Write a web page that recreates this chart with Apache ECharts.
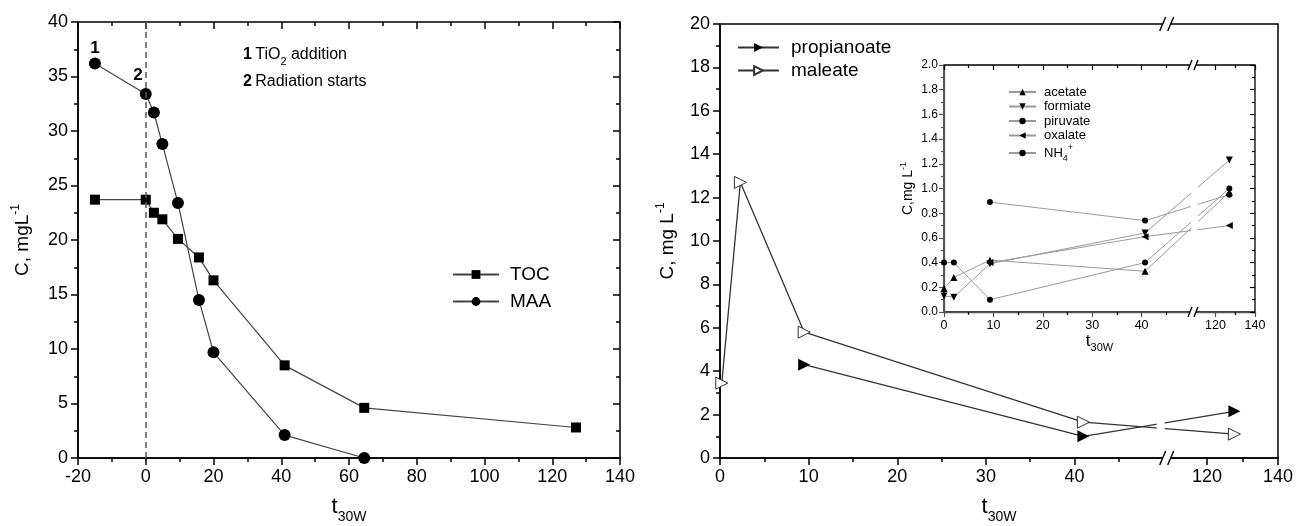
<!DOCTYPE html>
<html><head><meta charset="utf-8">
<script src="https://cdn.jsdelivr.net/npm/echarts@6/dist/echarts.min.js"></script>
<style>html,body{margin:0;padding:0;background:#fff}#c{width:1298px;height:526px}</style>
</head><body><div id="c"></div>
<script>
// ---------- DATA ----------
// Left panel (TOC and MAA vs t30W)
const leftTimes = [-15, 0, 2.4, 4.9, 9.5, 15.7, 20, 41, 64.5, 127];
const tocValues = [23.7, 23.7, 22.5, 21.9, 20.1, 18.4, 16.3, 8.5, 4.6, 2.8];
const maaValues = [36.2, 33.4, 31.7, 28.8, 23.4, 14.5, 9.7, 2.1, 0, null];
// Right panel
const maleateTimes = [0.2, 2.3, 9.5, 41, 127.7];
const maleateValues = [3.45, 12.7, 5.8, 1.65, 1.1];
const propTimes = [9.5, 41, 127.7];
const propValues = [4.3, 1.0, 2.15];
// Inset
const insetTimes = [0, 2, 9.3, 40.7, 127];
const acetateValues = [0.19, 0.28, 0.42, 0.33, 0.97];
const formiateValues = [0.13, 0.12, 0.39, 0.64, 1.23];
const piruvateValues = [null, null, 0.89, 0.74, 0.95];
const oxalateValues = [null, null, 0.40, 0.61, 0.70];
const nh4Values = [0.40, 0.40, 0.10, 0.40, 1.00];
// Broken-axis tick labels
const brokenMajorTicks = [0, 10, 20, 30, 40, 120, 140];
const brokenMinorTicks = [5, 15, 25, 35, 45, 130];

// ---------- broken axis mapping ----------
const BREAK_AT = 50.4, RESUME_AT = 108.6, COMPRESS = 0.4;
function brk(x){ return x <= BREAK_AT ? x : BREAK_AT + (x - RESUME_AT) * COMPRESS; }
function unbrk(v){ return v <= BREAK_AT + 1e-9 ? v : RESUME_AT + (v - BREAK_AT) / COMPRESS; }
const BMAX = brk(140);

function pairs(xs, ys, tf){
  return xs.map((x,i)=> ys[i]==null ? null : [tf ? tf(x) : x, ys[i]]).filter(Boolean);
}

const FONT = '"Liberation Sans", Arial, sans-serif';
const BLACK = '#000';

function axis(o){
  const a = {
    type:'value', splitLine:{show:false},
    axisLine:{show:true, onZero:false, lineStyle:{color:BLACK, width:1.5}},
    axisTick:{show:true, inside:false, length:7, lineStyle:{color:BLACK, width:1.5}},
    minorTick:{show:false, splitNumber:2, length:4, lineStyle:{color:BLACK, width:1.5}},
    axisLabel:{show:true, color:BLACK, fontFamily:FONT, fontSize:18, margin:10},
    nameTextStyle:{color:BLACK, fontFamily:FONT}
  };
  for (const k in o){
    if (a[k] && typeof a[k]==='object' && !Array.isArray(a[k]) && typeof o[k]==='object' && !Array.isArray(o[k])) a[k] = Object.assign({}, a[k], o[k]);
    else a[k] = o[k];
  }
  return a;
}

const tName = (big, small) => ({
  name:'{t|t}{s|30W}',
  nameTextStyle:{color:BLACK, fontFamily:FONT, rich:{
    t:{fontSize:big, fontFamily:FONT, color:BLACK, verticalAlign:'bottom', padding:[0,0,Math.round(big*0.25),0]},
    s:{fontSize:small, fontFamily:FONT, color:BLACK, verticalAlign:'bottom'}
  }}
});
const cName = (txt, big, small) => ({
  name:'{a|' + txt + '}{p|-1}',
  nameTextStyle:{color:BLACK, fontFamily:FONT, rich:{
    a:{fontSize:big, fontFamily:FONT, color:BLACK, verticalAlign:'bottom'},
    p:{fontSize:small, fontFamily:FONT, color:BLACK, verticalAlign:'bottom', padding:[0,0,Math.round(big*0.5),0]}
  }}
});

const brokenFmt = v => String(Math.round(unbrk(v)));

const option = {
  animation:false,
  backgroundColor:'#fff',
  textStyle:{fontFamily:FONT},
  grid:[
    {left:78, top:22, width:542, height:436, show:true, borderColor:BLACK, borderWidth:1.5, backgroundColor:'transparent', outerBoundsMode:'none', containLabel:false},
    {left:720, top:24, width:558, height:434, show:true, borderColor:BLACK, borderWidth:1.5, backgroundColor:'transparent', outerBoundsMode:'none', containLabel:false},
    {left:944, top:65, width:311, height:247, show:true, borderColor:BLACK, borderWidth:1.3, backgroundColor:'#fff', outerBoundsMode:'none', containLabel:false}
  ],
  xAxis:[
    axis(Object.assign({gridIndex:0, position:'bottom', min:-20, max:140, interval:20, minorTick:{show:true},
      nameLocation:'middle', nameGap:38}, tName(22, 14))),
    axis({gridIndex:0, position:'top', min:-20, max:140, interval:20, axisLine:{show:false},
      axisTick:{inside:true}, minorTick:{show:true}, axisLabel:{show:false}}),
    axis(Object.assign({gridIndex:1, position:'bottom', min:0, max:BMAX,
      axisTick:{customValues:brokenMajorTicks.map(brk)},
      axisLabel:{customValues:brokenMajorTicks.map(brk), formatter:brokenFmt},
      nameLocation:'middle', nameGap:38}, tName(22, 14))),
    axis({gridIndex:1, position:'bottom', min:0, max:BMAX, axisLine:{show:false},
      axisTick:{length:4, customValues:brokenMinorTicks.map(brk)}, axisLabel:{show:false}}),
    axis(Object.assign({gridIndex:2, position:'bottom', min:0, max:BMAX,
      axisLine:{lineStyle:{width:1.3}},
      axisTick:{length:5, lineStyle:{width:1.2}, customValues:brokenMajorTicks.map(brk)},
      axisLabel:{fontSize:12.5, margin:7, customValues:brokenMajorTicks.map(brk), formatter:brokenFmt},
      nameLocation:'middle', nameGap:18}, tName(17, 11))),
    axis({gridIndex:2, position:'bottom', min:0, max:BMAX, axisLine:{show:false},
      axisTick:{length:3, lineStyle:{width:1.2}, customValues:brokenMinorTicks.map(brk)}, axisLabel:{show:false}}),
    axis({gridIndex:2, position:'top', min:0, max:BMAX, axisLine:{show:false},
      axisTick:{inside:true, length:5, lineStyle:{width:1.2}, customValues:brokenMajorTicks.map(brk)}, axisLabel:{show:false}}),
    axis({gridIndex:2, position:'top', min:0, max:BMAX, axisLine:{show:false},
      axisTick:{inside:true, length:3, lineStyle:{width:1.2}, customValues:brokenMinorTicks.map(brk)}, axisLabel:{show:false}})
  ],
  yAxis:[
    axis(Object.assign({gridIndex:0, position:'left', min:0, max:40, interval:5, minorTick:{show:true},
      nameLocation:'middle', nameGap:46, nameRotate:90}, cName('C, mgL', 19, 12))),
    axis({gridIndex:0, position:'right', min:0, max:40, interval:5, axisLine:{show:false},
      axisTick:{inside:true}, minorTick:{show:true}, axisLabel:{show:false}}),
    axis(Object.assign({gridIndex:1, position:'left', min:0, max:20, interval:2, minorTick:{show:true},
      nameLocation:'middle', nameGap:43, nameRotate:90}, cName('C, mg L', 19, 12))),
    axis(Object.assign({gridIndex:2, position:'left', min:0, max:2, interval:0.2,
      axisLine:{lineStyle:{width:1.3}},
      axisTick:{length:5, lineStyle:{width:1.2}}, minorTick:{show:true, length:3, lineStyle:{width:1.2}},
      axisLabel:{fontSize:12, margin:6, formatter:v=>v.toFixed(1)},
      nameLocation:'middle', nameGap:29, nameRotate:90}, cName('C,mg L', 14, 9))),
    axis({gridIndex:2, position:'right', min:0, max:2, interval:0.2, axisLine:{show:false},
      axisTick:{inside:true, length:5, lineStyle:{width:1.2}}, minorTick:{show:true, length:3, lineStyle:{width:1.2}},
      axisLabel:{show:false}})
  ],
  legend:[
    {data:['TOC','MAA'], left:452, top:265, orient:'vertical', padding:0, itemWidth:46, itemHeight:11, itemGap:8,
     textStyle:{fontSize:19, color:BLACK, fontFamily:FONT, padding:[0,0,0,6]}},
    {data:['propianoate','maleate'], left:737, top:38, orient:'vertical', padding:0, itemWidth:41, itemHeight:11, itemGap:4,
     textStyle:{fontSize:19, color:BLACK, fontFamily:FONT, padding:[0,0,0,7]}},
    {data:['acetate','formiate','piruvate','oxalate','NH4+'], left:1008, top:85, orient:'vertical', padding:0,
     itemWidth:27, itemHeight:8, itemGap:0.5,
     formatter: n => n === 'NH4+' ? 'NH{sb|4}{sp|+}' : n,
     textStyle:{fontSize:13, lineHeight:14, color:BLACK, fontFamily:FONT, padding:[0,0,0,3],
       rich:{sb:{fontSize:9, verticalAlign:'bottom', padding:[0,0,-3,0]}, sp:{fontSize:9, verticalAlign:'top', padding:[-3,0,0,0]}}}}
  ],
  series:[
    {name:'TOC', type:'line', xAxisIndex:0, yAxisIndex:0, data:pairs(leftTimes, tocValues),
     symbol:'rect', symbolSize:10, lineStyle:{color:'#444', width:1.2}, itemStyle:{color:BLACK},
     markLine:{silent:true, symbol:['none','none'], label:{show:false},
       lineStyle:{type:[6,4], color:'#555', width:1.5}, data:[{xAxis:0}]}},
    {name:'MAA', type:'line', xAxisIndex:0, yAxisIndex:0, data:pairs(leftTimes, maaValues),
     symbol:'circle', symbolSize:12, lineStyle:{color:'#444', width:1.2}, itemStyle:{color:BLACK}},
    {name:'propianoate', type:'line', xAxisIndex:2, yAxisIndex:2, data:pairs(propTimes, propValues, brk),
     symbol:'triangle', symbolRotate:-90, symbolSize:12, lineStyle:{color:'#333', width:1.3}, itemStyle:{color:BLACK}},
    {name:'maleate', type:'line', xAxisIndex:2, yAxisIndex:2, data:pairs(maleateTimes, maleateValues, brk),
     symbol:'triangle', symbolRotate:-90, symbolSize:12, lineStyle:{color:'#333', width:1.3},
     itemStyle:{color:'#fff', borderColor:'#333', borderWidth:1}},
    {name:'acetate', type:'line', xAxisIndex:4, yAxisIndex:3, data:pairs(insetTimes, acetateValues, brk),
     symbol:'triangle', symbolSize:7, lineStyle:{color:'#9a9a9a', width:1}, itemStyle:{color:BLACK}, z:5},
    {name:'formiate', type:'line', xAxisIndex:4, yAxisIndex:3, data:pairs(insetTimes, formiateValues, brk),
     symbol:'triangle', symbolRotate:180, symbolSize:7, lineStyle:{color:'#9a9a9a', width:1}, itemStyle:{color:BLACK}, z:5},
    {name:'piruvate', type:'line', xAxisIndex:4, yAxisIndex:3, data:pairs(insetTimes, piruvateValues, brk),
     symbol:'circle', symbolSize:6, lineStyle:{color:'#9a9a9a', width:1}, itemStyle:{color:BLACK}, z:5},
    {name:'oxalate', type:'line', xAxisIndex:4, yAxisIndex:3, data:pairs(insetTimes, oxalateValues, brk),
     symbol:'triangle', symbolRotate:90, symbolSize:7, lineStyle:{color:'#9a9a9a', width:1}, itemStyle:{color:BLACK}, z:5},
    {name:'NH4+', type:'line', xAxisIndex:4, yAxisIndex:3, data:pairs(insetTimes, nh4Values, brk),
     symbol:'circle', symbolSize:6, lineStyle:{color:'#9a9a9a', width:1}, itemStyle:{color:BLACK}, z:5}
  ]
};

const chart = echarts.init(document.getElementById('c'), null, {renderer:'canvas'});
chart.setOption(option);

// ---------- decorations (annotations, axis-break marks) ----------
function px(xi, yi, x, y){ return chart.convertToPixel({xAxisIndex:xi, yAxisIndex:yi}, [x, y]); }
const g = [];
const p1 = px(0,0,-15,37.6), p2 = px(0,0,-2.3,35.1);
g.push({type:'text', x:p1[0], y:p1[1], z:50, style:{text:'1', fontFamily:FONT, fontSize:17, fontWeight:'bold', fill:BLACK, align:'center', verticalAlign:'middle'}});
g.push({type:'text', x:p2[0], y:p2[1], z:50, style:{text:'2', fontFamily:FONT, fontSize:17, fontWeight:'bold', fill:BLACK, align:'center', verticalAlign:'middle'}});
const noteRich = {b:{fontWeight:'bold', fontSize:16, fontFamily:FONT, fill:BLACK}, n:{fontSize:16, fontFamily:FONT, fill:BLACK},
  s:{fontSize:11, fontFamily:FONT, fill:BLACK, verticalAlign:'bottom', padding:[0,0,-4,0]}};
g.push({type:'text', x:243, y:55, z:50, style:{text:'{b|1} {n|TiO}{s|2}{n| addition}', rich:noteRich, verticalAlign:'middle', fill:BLACK}});
g.push({type:'text', x:243, y:82, z:50, style:{text:'{b|2} {n|Radiation starts}', rich:noteRich, verticalAlign:'middle', fill:BLACK}});

function breakMark(bx, by, h, w){
  g.push({type:'rect', z:60, shape:{x:bx-w/2-1, y:by-3, width:w+2, height:6}, style:{fill:'#fff'}});
  g.push({type:'line', z:61, shape:{x1:bx-w-1, y1:by+h, x2:bx-1, y2:by-h}, style:{stroke:BLACK, lineWidth:1.4}});
  g.push({type:'line', z:61, shape:{x1:bx+1, y1:by+h, x2:bx+w+1, y2:by-h}, style:{stroke:BLACK, lineWidth:1.4}});
}
// main right panel
const mb = px(2,2,BREAK_AT,0), mt = px(2,2,BREAK_AT,20);
breakMark(mb[0], mb[1], 7, 6);
breakMark(mt[0], mt[1], 7, 6);
const lineGapTop = px(2,2,BREAK_AT,4)[1];
g.push({type:'rect', z:40, shape:{x:mb[0]-10, y:lineGapTop, width:8, height:mb[1]-lineGapTop-3}, style:{fill:'#fff'}});
// inset
const ib = px(4,3,BREAK_AT,0), it = px(4,3,BREAK_AT,2);
g.push({type:'rect', z:40, shape:{x:ib[0]-2, y:it[1]+3, width:7, height:ib[1]-it[1]-6}, style:{fill:'#fff'}});
breakMark(ib[0], ib[1], 5, 4);
breakMark(it[0], it[1], 5, 4);

chart.setOption({graphic:g});
</script>
</body></html>
